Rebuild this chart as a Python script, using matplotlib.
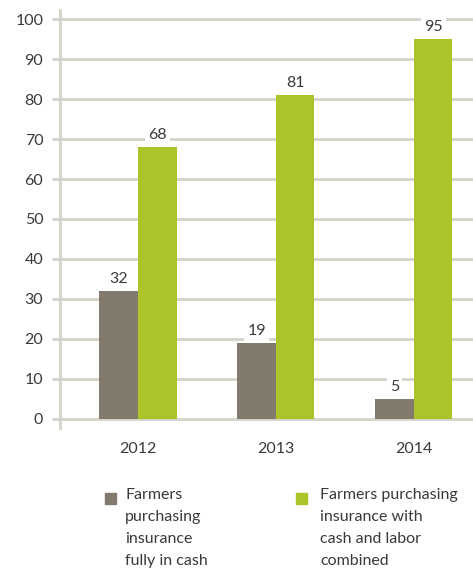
import matplotlib.pyplot as plt
from matplotlib.patches import Rectangle
import numpy as np

plt.rcParams['font.family'] = ['Lato', 'DejaVu Sans']

years = ["2012", "2013", "2014"]
cash_only = [32, 19, 5]
cash_labor = [68, 81, 95]
legend_labels = ["Farmers\npurchasing\ninsurance\nfully in cash",
                 "Farmers purchasing\ninsurance with\ncash and labor\ncombined"]

gray = "#827a6d"
green = "#acc42a"
grid_c = "#d3d3ca"
text_c = "#3a3a3a"

W, H = 473, 572
fig = plt.figure(figsize=(W / 100, H / 100), dpi=100)
ax = fig.add_axes([60 / W, 1 - 428 / H, 1 - 60 / W, 418 / H])

x = np.arange(len(years))
bw = 0.28
b1 = ax.bar(x - bw / 2, cash_only, bw, color=gray, zorder=3)
b2 = ax.bar(x + bw / 2, cash_labor, bw, color=green, zorder=3)

for bars, vals in ((b1, cash_only), (b2, cash_labor)):
    for b, v in zip(bars, vals):
        ax.annotate(str(v), (b.get_x() + b.get_width() / 2, v),
                    xytext=(0, 3.5), textcoords="offset points",
                    ha="center", va="bottom", fontsize=11.5, color=text_c,
                    bbox=dict(boxstyle="square,pad=0.2", fc="white", ec="none"),
                    zorder=2)

ax.set_xlim(-0.565, 2.43)
ax.set_ylim(-2.3, 102.3)
ax.set_yticks(range(0, 101, 10))
ax.set_xticks(x, years)
ax.yaxis.grid(True, color=grid_c, linewidth=2, zorder=0)
ax.set_axisbelow(True)

for s in ("top", "right", "bottom"):
    ax.spines[s].set_visible(False)
ax.spines["left"].set_color(grid_c)
ax.spines["left"].set_linewidth(2)

ax.tick_params(axis="y", length=6, width=2, color=grid_c, pad=6,
               labelsize=11.5, labelcolor=text_c)
ax.tick_params(axis="x", length=0, pad=10, labelsize=11.5, labelcolor=text_c)

# legend below the chart
for col, lab, sx, tx in ((gray, legend_labels[0], 105, 125),
                         (green, legend_labels[1], 296, 320)):
    fig.patches.append(Rectangle((sx / W, 1 - 504 / H), 11 / W, 11 / H,
                                 transform=fig.transFigure, color=col))
    fig.text(tx / W, 1 - 488 / H, lab, ha="left", va="top", fontsize=11.5,
             color=text_c, linespacing=1.72)

fig.savefig("out.png", dpi=100)
